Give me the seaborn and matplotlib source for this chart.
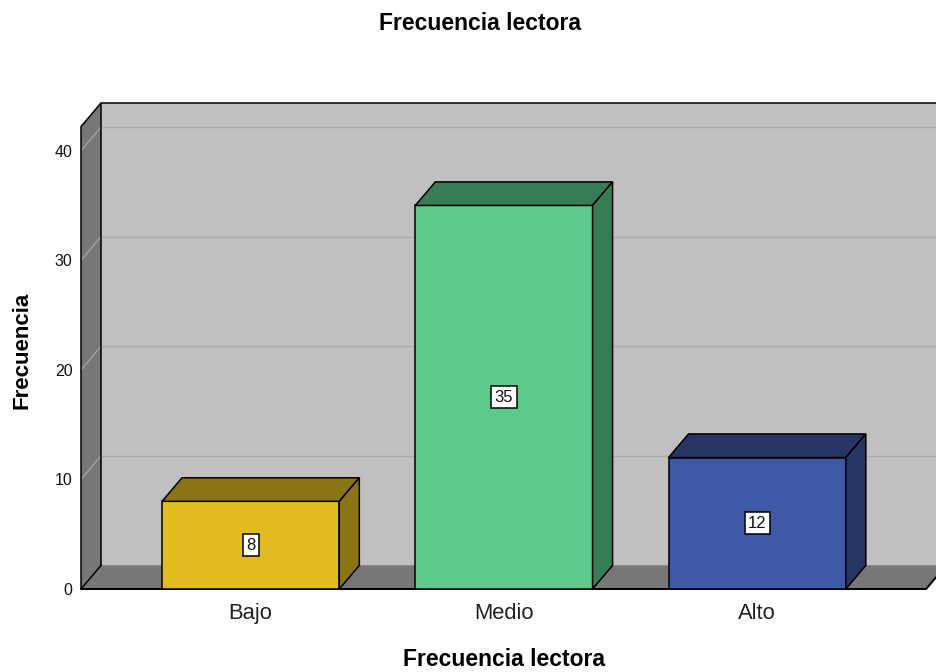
import matplotlib
matplotlib.use('Agg')
import matplotlib.pyplot as plt
import seaborn as sns
from matplotlib.patches import Polygon

# ---- data ----
categories = ['Bajo', 'Medio', 'Alto']
values = [8, 35, 12]
value_labels = ['8', '35', '12']
y_ticks = [0, 10, 20, 30, 40]
title = 'Frecuencia lectora'
x_label = 'Frecuencia lectora'
y_label = 'Frecuencia'

front_colors = ['#E1BB1F', '#5BCA8B', '#3E59A6']
shade_colors = ['#8B7414', '#367D55', '#253664']

sns.set_theme(style='white')
plt.rcParams['font.family'] = ['Liberation Sans', 'DejaVu Sans']

W, H = 936, 672
fig = plt.figure(figsize=(W / 100, H / 100), dpi=100, facecolor='white')
ax = fig.add_axes([81 / W, (H - 589) / H, (W - 81) / W, (589 - 103) / H])

# 3D frame geometry in data units
x0, x1 = -0.67, 2.667
y_top = 42.2
ddx, ddy = 0.079, 2.15
wall = '#777777'
back = '#c0c0c0'
grid_c = '#adadad'
lw = 1.1

sns.barplot(x=categories, y=values, hue=categories, palette=front_colors,
            legend=False, width=0.7, saturation=1, edgecolor='black',
            linewidth=lw, ax=ax, zorder=4)
bars = list(ax.patches)

# back wall
ax.add_patch(Polygon([(x0 + ddx, ddy), (x1 + ddx, ddy), (x1 + ddx, y_top + ddy),
                      (x0 + ddx, y_top + ddy)], closed=True, fc=back, ec='none',
                     zorder=1, clip_on=False))
for t in y_ticks:
    ax.plot([x0 + ddx, x1 + ddx], [t + ddy, t + ddy], color=grid_c, lw=1.0,
            zorder=1.5, clip_on=False, solid_capstyle='butt')
# floor and left wall
ax.add_patch(Polygon([(x0, 0), (x1, 0), (x1 + ddx, ddy), (x0 + ddx, ddy)],
                     closed=True, fc=wall, ec='none', zorder=2, clip_on=False))
ax.add_patch(Polygon([(x0, 0), (x0 + ddx, ddy), (x0 + ddx, y_top + ddy), (x0, y_top)],
                     closed=True, fc=wall, ec='none', zorder=2, clip_on=False))
for t in y_ticks:
    ax.plot([x0, x0 + ddx], [t, t + ddy], color='#a0a0a0', lw=1.0, zorder=2.5,
            clip_on=False)
# outlines
ax.plot([x0 + ddx, x1 + ddx + 0.2], [y_top + ddy, y_top + ddy], color='black',
        lw=lw, zorder=3, clip_on=False)
ax.plot([x0 + ddx, x0, x0, x0 + ddx, x0 + ddx],
        [ddy, 0, y_top, y_top + ddy, ddy], color='black', lw=lw, zorder=3,
        clip_on=False, solid_joinstyle='miter')
ax.plot([x0, x1, x1 + ddx], [0, 0, ddy], color='black', lw=lw * 1.3, zorder=3,
        clip_on=False)

# bar top and side faces
for p in bars:
    bx, w, h = p.get_x(), p.get_width(), p.get_height()
    idx = int(round(bx + w / 2))
    sc = shade_colors[idx]
    ax.add_patch(Polygon([(bx, h), (bx + w, h), (bx + w + ddx, h + ddy), (bx + ddx, h + ddy)],
                         closed=True, fc=sc, ec='black', lw=lw, zorder=4,
                         clip_on=False))
    ax.add_patch(Polygon([(bx + w, 0), (bx + w + ddx, ddy), (bx + w + ddx, h + ddy), (bx + w, h)],
                         closed=True, fc=sc, ec='black', lw=lw, zorder=4,
                         clip_on=False))
    ax.text(bx + w / 2, h / 2, value_labels[idx], ha='center', va='center',
            fontsize=12, color='#111111', zorder=6,
            bbox=dict(boxstyle='square,pad=0.2', fc='white', ec='black', lw=1.1))

ax.set_xlim(x0, x0 + (W - 81) / 253.25)
ax.set_ylim(0, y_top + ddy)
ax.set_yticks(y_ticks)
ax.set_yticklabels([str(t) for t in y_ticks], fontsize=11.5, color='#111111')
ax.set_xticks(range(len(categories)))
ax.set_xticklabels(categories, fontsize=15.8, color='#222222')
ax.tick_params(axis='y', length=0, pad=6)
ax.tick_params(axis='x', length=0, pad=10)
ax.set_xlabel('')
ax.set_ylabel('')
for s in ax.spines.values():
    s.set_visible(False)
ax.set_facecolor('none')

fig.text(480 / W, (H - 30) / H, title, ha='center', va='baseline',
         fontsize=16.5, fontweight='bold', color='black')
fig.text(503.7 / W, (H - 666.5) / H, x_label, ha='center', va='baseline',
         fontsize=16.5, fontweight='bold', color='black')
fig.text(22 / W, (H - 350) / H, y_label, ha='center', va='center', rotation=90,
         fontsize=16, fontweight='bold', color='black')

fig.savefig('out.png', dpi=100, facecolor='white')
